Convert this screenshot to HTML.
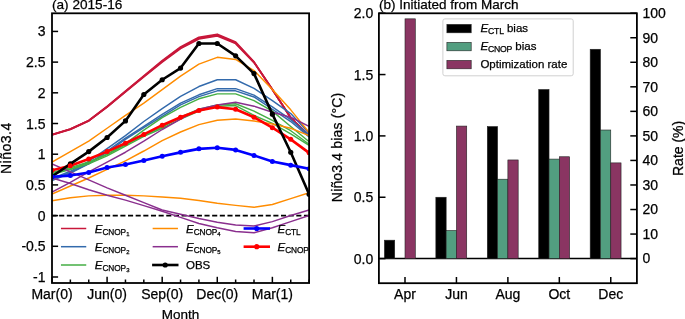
<!DOCTYPE html>
<html><head><meta charset="utf-8"><style>
html,body{margin:0;padding:0;background:#fff;width:685px;height:319px;overflow:hidden}
svg{display:block;will-change:transform}
text{font-family:"Liberation Sans", sans-serif;fill:#000;stroke:#000;stroke-width:0.25px}
</style></head><body>
<svg width="685" height="319" viewBox="0 0 685 319">
<clipPath id="ca"><rect x="52.00" y="13.30" width="257.10" height="269.70"/></clipPath>
<g clip-path="url(#ca)">
<line x1="51.50" y1="215.60" x2="309.10" y2="215.60" stroke="#000" stroke-width="1.8" stroke-dasharray="5.1 2.55"/>
<polyline points="52.00,134.92 70.36,129.33 88.73,120.91 107.09,107.09 125.46,91.92 143.82,76.94 162.19,61.95 180.55,48.44 198.91,38.92 217.28,35.85 235.64,43.52 254.01,62.56 272.37,89.59 290.74,117.84 309.10,135.65" fill="none" stroke="#c8173a" stroke-width="1.75" stroke-linejoin="round" stroke-linecap="butt"/>
<polyline points="52.00,134.62 70.36,128.98 88.73,120.46 107.09,106.49 125.46,91.12 143.82,75.94 162.19,60.75 180.55,47.04 198.91,37.32 217.28,34.25 235.64,42.12 254.01,61.86 272.37,89.59 290.74,117.84 309.10,135.65" fill="none" stroke="#c8173a" stroke-width="1.75" stroke-linejoin="round" stroke-linecap="butt"/>
<polyline points="52.00,134.77 70.36,129.15 88.73,120.69 107.09,106.79 125.46,91.52 143.82,76.44 162.19,61.35 180.55,47.74 198.91,38.12 217.28,35.05 235.64,42.82 254.01,62.21 272.37,89.59 290.74,117.84 309.10,135.65" fill="none" stroke="#c8173a" stroke-width="1.75" stroke-linejoin="round" stroke-linecap="butt"/>
<polyline points="52.00,178.65 70.36,171.28 88.73,161.45 107.09,148.55 125.46,135.65 143.82,121.53 162.19,108.63 180.55,96.35 198.91,86.52 217.28,79.76 235.64,79.76 254.01,88.36 272.37,100.64 290.74,113.54 309.10,133.20" fill="none" stroke="#336aac" stroke-width="1.45" stroke-linejoin="round" stroke-linecap="butt"/>
<polyline points="52.00,179.88 70.36,172.51 88.73,163.29 107.09,151.01 125.46,138.11 143.82,126.44 162.19,114.46 180.55,103.10 198.91,94.81 217.28,88.67 235.64,88.67 254.01,95.12 272.37,106.79 290.74,119.68 309.10,135.04" fill="none" stroke="#336aac" stroke-width="1.45" stroke-linejoin="round" stroke-linecap="butt"/>
<polyline points="52.00,180.49 70.36,173.12 88.73,163.91 107.09,152.24 125.46,139.34 143.82,127.67 162.19,116.31 180.55,104.94 198.91,96.65 217.28,90.82 235.64,90.82 254.01,96.96 272.37,109.24 290.74,121.53 309.10,136.88" fill="none" stroke="#336aac" stroke-width="1.45" stroke-linejoin="round" stroke-linecap="butt"/>
<polyline points="52.00,172.51 70.36,167.59 88.73,162.06 107.09,154.08 125.46,143.64 143.82,130.13 162.19,117.54 180.55,107.40 198.91,98.80 217.28,93.89 235.64,93.89 254.01,100.64 272.37,111.09 290.74,126.44 309.10,141.80" fill="none" stroke="#45ae45" stroke-width="1.45" stroke-linejoin="round" stroke-linecap="butt"/>
<polyline points="52.00,173.73 70.36,168.82 88.73,162.68 107.09,154.69 125.46,144.87 143.82,135.04 162.19,127.06 180.55,117.23 198.91,109.24 217.28,104.94 235.64,103.72 254.01,111.09 272.37,120.30 290.74,130.74 309.10,144.25" fill="none" stroke="#45ae45" stroke-width="1.45" stroke-linejoin="round" stroke-linecap="butt"/>
<polyline points="52.00,174.35 70.36,169.44 88.73,163.91 107.09,155.92 125.46,146.10 143.82,136.27 162.19,128.28 180.55,119.07 198.91,111.09 217.28,106.17 235.64,105.56 254.01,115.39 272.37,123.37 290.74,133.81 309.10,145.48" fill="none" stroke="#45ae45" stroke-width="1.45" stroke-linejoin="round" stroke-linecap="butt"/>
<polyline points="52.00,162.06 70.36,151.62 88.73,141.18 107.09,128.28 125.46,115.39 143.82,103.10 162.19,89.59 180.55,76.08 198.91,64.10 217.28,57.34 235.64,59.49 254.01,70.55 272.37,89.59 290.74,109.86 309.10,132.58" fill="none" stroke="#ff8c00" stroke-width="1.45" stroke-linejoin="round" stroke-linecap="butt"/>
<polyline points="52.00,194.00 70.36,186.02 88.73,178.03 107.09,169.44 125.46,160.84 143.82,151.01 162.19,140.57 180.55,131.97 198.91,124.60 217.28,120.30 235.64,119.07 254.01,120.91 272.37,123.98 290.74,128.28 309.10,135.65" fill="none" stroke="#ff8c00" stroke-width="1.45" stroke-linejoin="round" stroke-linecap="butt"/>
<polyline points="52.00,200.76 70.36,197.69 88.73,195.85 107.09,195.23 125.46,195.23 143.82,195.85 162.19,197.07 180.55,198.30 198.91,200.45 217.28,203.22 235.64,205.37 254.01,207.21 272.37,204.44 290.74,198.61 309.10,192.77" fill="none" stroke="#ff8c00" stroke-width="1.45" stroke-linejoin="round" stroke-linecap="butt"/>
<polyline points="52.00,192.16 70.36,182.33 88.73,171.89 107.09,162.06 125.46,152.24 143.82,141.18 162.19,129.51 180.55,119.07 198.91,109.24 217.28,104.94 235.64,102.18 254.01,106.17 272.37,112.31 290.74,117.23 309.10,126.44" fill="none" stroke="#8a2f8e" stroke-width="1.45" stroke-linejoin="round" stroke-linecap="butt"/>
<polyline points="52.00,163.91 70.36,171.89 88.73,179.88 107.09,187.86 125.46,195.23 143.82,202.60 162.19,209.97 180.55,214.27 198.91,218.57 217.28,222.26 235.64,225.02 254.01,225.94 272.37,221.64 290.74,215.50 309.10,209.97" fill="none" stroke="#8a2f8e" stroke-width="1.45" stroke-linejoin="round" stroke-linecap="butt"/>
<polyline points="52.00,178.03 70.36,183.56 88.73,189.70 107.09,195.23 125.46,200.15 143.82,205.67 162.19,211.20 180.55,217.34 198.91,223.48 217.28,227.78 235.64,231.47 254.01,232.70 272.37,227.78 290.74,221.64 309.10,215.50" fill="none" stroke="#8a2f8e" stroke-width="1.45" stroke-linejoin="round" stroke-linecap="butt"/>
<polyline points="52.00,170.36 70.36,165.75 88.73,158.99 107.09,151.62 125.46,143.27 143.82,134.43 162.19,125.21 180.55,117.23 198.91,110.47 217.28,107.09 235.64,109.24 254.01,117.23 272.37,127.67 290.74,139.34 309.10,152.85" fill="none" stroke="#ff0000" stroke-width="2.60" stroke-linejoin="round" stroke-linecap="butt"/>
<polyline points="52.00,176.50 70.36,163.91 88.73,151.62 107.09,137.50 125.46,120.91 143.82,94.50 162.19,79.76 180.55,68.09 198.91,43.52 217.28,43.52 235.64,55.81 254.01,73.62 272.37,114.16 290.74,152.24 309.10,194.31" fill="none" stroke="#000" stroke-width="2.60" stroke-linejoin="round" stroke-linecap="butt"/>
<circle cx="52.00" cy="176.50" r="2.60" fill="#000"/><circle cx="70.36" cy="163.91" r="2.60" fill="#000"/><circle cx="88.73" cy="151.62" r="2.60" fill="#000"/><circle cx="107.09" cy="137.50" r="2.60" fill="#000"/><circle cx="125.46" cy="120.91" r="2.60" fill="#000"/><circle cx="143.82" cy="94.50" r="2.60" fill="#000"/><circle cx="162.19" cy="79.76" r="2.60" fill="#000"/><circle cx="180.55" cy="68.09" r="2.60" fill="#000"/><circle cx="198.91" cy="43.52" r="2.60" fill="#000"/><circle cx="217.28" cy="43.52" r="2.60" fill="#000"/><circle cx="235.64" cy="55.81" r="2.60" fill="#000"/><circle cx="254.01" cy="73.62" r="2.60" fill="#000"/><circle cx="272.37" cy="114.16" r="2.60" fill="#000"/><circle cx="290.74" cy="152.24" r="2.60" fill="#000"/><circle cx="309.10" cy="194.31" r="2.60" fill="#000"/>
<polyline points="52.00,176.81 70.36,175.58 88.73,172.51 107.09,167.59 125.46,164.52 143.82,160.47 162.19,156.35 180.55,152.36 198.91,148.86 217.28,147.69 235.64,149.90 254.01,155.49 272.37,161.45 290.74,165.14 309.10,168.82" fill="none" stroke="#0000ff" stroke-width="2.60" stroke-linejoin="round" stroke-linecap="butt"/>
<circle cx="52.00" cy="176.81" r="2.50" fill="#0000ff"/><circle cx="70.36" cy="175.58" r="2.50" fill="#0000ff"/><circle cx="88.73" cy="172.51" r="2.50" fill="#0000ff"/><circle cx="107.09" cy="167.59" r="2.50" fill="#0000ff"/><circle cx="125.46" cy="164.52" r="2.50" fill="#0000ff"/><circle cx="143.82" cy="160.47" r="2.50" fill="#0000ff"/><circle cx="162.19" cy="156.35" r="2.50" fill="#0000ff"/><circle cx="180.55" cy="152.36" r="2.50" fill="#0000ff"/><circle cx="198.91" cy="148.86" r="2.50" fill="#0000ff"/><circle cx="217.28" cy="147.69" r="2.50" fill="#0000ff"/><circle cx="235.64" cy="149.90" r="2.50" fill="#0000ff"/><circle cx="254.01" cy="155.49" r="2.50" fill="#0000ff"/><circle cx="272.37" cy="161.45" r="2.50" fill="#0000ff"/><circle cx="290.74" cy="165.14" r="2.50" fill="#0000ff"/><circle cx="309.10" cy="168.82" r="2.50" fill="#0000ff"/>
<circle cx="52.00" cy="170.36" r="2.50" fill="#ff0000"/><circle cx="70.36" cy="165.75" r="2.50" fill="#ff0000"/><circle cx="88.73" cy="158.99" r="2.50" fill="#ff0000"/><circle cx="107.09" cy="151.62" r="2.50" fill="#ff0000"/><circle cx="125.46" cy="143.27" r="2.50" fill="#ff0000"/><circle cx="143.82" cy="134.43" r="2.50" fill="#ff0000"/><circle cx="162.19" cy="125.21" r="2.50" fill="#ff0000"/><circle cx="180.55" cy="117.23" r="2.50" fill="#ff0000"/><circle cx="198.91" cy="110.47" r="2.50" fill="#ff0000"/><circle cx="217.28" cy="107.09" r="2.50" fill="#ff0000"/><circle cx="235.64" cy="109.24" r="2.50" fill="#ff0000"/><circle cx="254.01" cy="117.23" r="2.50" fill="#ff0000"/><circle cx="272.37" cy="127.67" r="2.50" fill="#ff0000"/><circle cx="290.74" cy="139.34" r="2.50" fill="#ff0000"/><circle cx="309.10" cy="152.85" r="2.50" fill="#ff0000"/>
</g>
<line x1="61.70" y1="228.50" x2="85.50" y2="228.50" stroke="#c8173a" stroke-width="1.50" stroke-linecap="square"/>
<text x="94.80" y="232.50" font-size="11.5"><tspan font-style="italic">E</tspan><tspan font-size="8.3" dy="2.0" letter-spacing="-0.12">CNOP</tspan><tspan font-size="5.9" dy="1.3" dx="0.2">1</tspan></text>
<line x1="61.70" y1="246.70" x2="85.50" y2="246.70" stroke="#336aac" stroke-width="1.50" stroke-linecap="square"/>
<text x="94.80" y="250.70" font-size="11.5"><tspan font-style="italic">E</tspan><tspan font-size="8.3" dy="2.0" letter-spacing="-0.12">CNOP</tspan><tspan font-size="5.9" dy="1.3" dx="0.2">2</tspan></text>
<line x1="61.70" y1="265.00" x2="85.50" y2="265.00" stroke="#45ae45" stroke-width="1.50" stroke-linecap="square"/>
<text x="94.80" y="269.00" font-size="11.5"><tspan font-style="italic">E</tspan><tspan font-size="8.3" dy="2.0" letter-spacing="-0.12">CNOP</tspan><tspan font-size="5.9" dy="1.3" dx="0.2">3</tspan></text>
<line x1="153.40" y1="228.50" x2="177.20" y2="228.50" stroke="#ff8c00" stroke-width="1.50" stroke-linecap="square"/>
<text x="186.00" y="232.50" font-size="11.5"><tspan font-style="italic">E</tspan><tspan font-size="8.3" dy="2.0" letter-spacing="-0.12">CNOP</tspan><tspan font-size="5.9" dy="1.3" dx="0.2">4</tspan></text>
<line x1="153.40" y1="246.70" x2="177.20" y2="246.70" stroke="#8a2f8e" stroke-width="1.50" stroke-linecap="square"/>
<text x="186.00" y="250.70" font-size="11.5"><tspan font-style="italic">E</tspan><tspan font-size="8.3" dy="2.0" letter-spacing="-0.12">CNOP</tspan><tspan font-size="5.9" dy="1.3" dx="0.2">5</tspan></text>
<line x1="244.90" y1="228.50" x2="268.70" y2="228.50" stroke="#0000ff" stroke-width="2.60" stroke-linecap="square"/>
<circle cx="256.70" cy="228.50" r="2.6" fill="#0000ff"/>
<text x="277.50" y="232.50" font-size="11.5"><tspan font-style="italic">E</tspan><tspan font-size="8.3" dy="2.0" letter-spacing="-0.12">CTL</tspan></text>
<line x1="244.90" y1="246.70" x2="268.70" y2="246.70" stroke="#ff0000" stroke-width="2.60" stroke-linecap="square"/>
<circle cx="256.70" cy="246.70" r="2.6" fill="#ff0000"/>
<text x="277.50" y="250.70" font-size="11.5"><tspan font-style="italic">E</tspan><tspan font-size="8.3" dy="2.0" letter-spacing="-0.12">CNOP</tspan></text>
<line x1="153.40" y1="265.00" x2="177.20" y2="265.00" stroke="#000" stroke-width="2.6" stroke-linecap="square"/>
<circle cx="165.20" cy="265.00" r="2.6" fill="#000"/>
<text x="186.00" y="269.00" font-size="11.5" text-anchor="start">OBS</text>
<rect x="52.00" y="13.30" width="257.10" height="269.70" fill="none" stroke="#000" stroke-width="1.8"/>
<line x1="52.00" y1="31.43" x2="58.10" y2="31.43" stroke="#000" stroke-width="1.5"/>
<text x="45.50" y="36.43" font-size="14" text-anchor="end">3</text>
<line x1="52.00" y1="62.12" x2="58.10" y2="62.12" stroke="#000" stroke-width="1.5"/>
<text x="45.50" y="67.12" font-size="14" text-anchor="end">2.5</text>
<line x1="52.00" y1="92.82" x2="58.10" y2="92.82" stroke="#000" stroke-width="1.5"/>
<text x="45.50" y="97.82" font-size="14" text-anchor="end">2</text>
<line x1="52.00" y1="123.51" x2="58.10" y2="123.51" stroke="#000" stroke-width="1.5"/>
<text x="45.50" y="128.51" font-size="14" text-anchor="end">1.5</text>
<line x1="52.00" y1="154.21" x2="58.10" y2="154.21" stroke="#000" stroke-width="1.5"/>
<text x="45.50" y="159.21" font-size="14" text-anchor="end">1</text>
<line x1="52.00" y1="184.91" x2="58.10" y2="184.91" stroke="#000" stroke-width="1.5"/>
<text x="45.50" y="189.91" font-size="14" text-anchor="end">0.5</text>
<line x1="52.00" y1="215.60" x2="58.10" y2="215.60" stroke="#000" stroke-width="1.5"/>
<text x="45.50" y="220.60" font-size="14" text-anchor="end">0</text>
<line x1="52.00" y1="246.29" x2="58.10" y2="246.29" stroke="#000" stroke-width="1.5"/>
<text x="45.50" y="251.29" font-size="14" text-anchor="end">-0.5</text>
<line x1="52.00" y1="276.99" x2="58.10" y2="276.99" stroke="#000" stroke-width="1.5"/>
<text x="45.50" y="281.99" font-size="14" text-anchor="end">-1</text>
<line x1="52.00" y1="283.00" x2="52.00" y2="276.80" stroke="#000" stroke-width="1.5"/>
<line x1="70.36" y1="283.00" x2="70.36" y2="279.50" stroke="#000" stroke-width="1.5"/>
<line x1="88.73" y1="283.00" x2="88.73" y2="279.50" stroke="#000" stroke-width="1.5"/>
<line x1="107.09" y1="283.00" x2="107.09" y2="276.80" stroke="#000" stroke-width="1.5"/>
<line x1="125.46" y1="283.00" x2="125.46" y2="279.50" stroke="#000" stroke-width="1.5"/>
<line x1="143.82" y1="283.00" x2="143.82" y2="279.50" stroke="#000" stroke-width="1.5"/>
<line x1="162.19" y1="283.00" x2="162.19" y2="276.80" stroke="#000" stroke-width="1.5"/>
<line x1="180.55" y1="283.00" x2="180.55" y2="279.50" stroke="#000" stroke-width="1.5"/>
<line x1="198.91" y1="283.00" x2="198.91" y2="279.50" stroke="#000" stroke-width="1.5"/>
<line x1="217.28" y1="283.00" x2="217.28" y2="276.80" stroke="#000" stroke-width="1.5"/>
<line x1="235.64" y1="283.00" x2="235.64" y2="279.50" stroke="#000" stroke-width="1.5"/>
<line x1="254.01" y1="283.00" x2="254.01" y2="279.50" stroke="#000" stroke-width="1.5"/>
<line x1="272.37" y1="283.00" x2="272.37" y2="276.80" stroke="#000" stroke-width="1.5"/>
<line x1="290.74" y1="283.00" x2="290.74" y2="279.50" stroke="#000" stroke-width="1.5"/>
<line x1="309.10" y1="283.00" x2="309.10" y2="279.50" stroke="#000" stroke-width="1.5"/>
<text x="52.00" y="299.40" font-size="14" text-anchor="middle">Mar(0)</text>
<text x="107.09" y="299.40" font-size="14" text-anchor="middle">Jun(0)</text>
<text x="162.19" y="299.40" font-size="14" text-anchor="middle">Sep(0)</text>
<text x="217.28" y="299.40" font-size="14" text-anchor="middle">Dec(0)</text>
<text x="272.37" y="299.40" font-size="14" text-anchor="middle">Mar(1)</text>
<text x="180.55" y="318.60" font-size="13.5" text-anchor="middle">Month</text>
<text x="52.00" y="9.40" font-size="13.6" text-anchor="start">(a) 2015-16</text>
<text x="0" y="0" font-size="14" text-anchor="middle" letter-spacing="0.5" transform="translate(11.2,148.2) rotate(-90)">Niño3.4</text>
<line x1="378.90" y1="258.60" x2="636.90" y2="258.60" stroke="#000" stroke-width="1.5"/>
<rect x="384.42" y="240.20" width="10.29" height="18.41" fill="#000" stroke="#222" stroke-width="0.6"/>
<rect x="405.00" y="18.84" width="10.29" height="239.76" fill="#8a3562" stroke="#222" stroke-width="0.6"/>
<rect x="435.86" y="197.25" width="10.29" height="61.35" fill="#000" stroke="#222" stroke-width="0.6"/>
<rect x="446.15" y="230.50" width="10.29" height="28.10" fill="#529e80" stroke="#222" stroke-width="0.6"/>
<rect x="456.44" y="126.08" width="10.29" height="132.52" fill="#8a3562" stroke="#222" stroke-width="0.6"/>
<rect x="487.30" y="126.57" width="10.29" height="132.03" fill="#000" stroke="#222" stroke-width="0.6"/>
<rect x="497.59" y="179.21" width="10.29" height="79.39" fill="#529e80" stroke="#222" stroke-width="0.6"/>
<rect x="507.88" y="159.95" width="10.29" height="98.65" fill="#8a3562" stroke="#222" stroke-width="0.6"/>
<rect x="538.74" y="89.52" width="10.29" height="169.08" fill="#000" stroke="#222" stroke-width="0.6"/>
<rect x="549.03" y="159.09" width="10.29" height="99.51" fill="#529e80" stroke="#222" stroke-width="0.6"/>
<rect x="559.32" y="156.76" width="10.29" height="101.84" fill="#8a3562" stroke="#222" stroke-width="0.6"/>
<rect x="590.18" y="49.27" width="10.29" height="209.33" fill="#000" stroke="#222" stroke-width="0.6"/>
<rect x="600.47" y="130.01" width="10.29" height="128.59" fill="#529e80" stroke="#222" stroke-width="0.6"/>
<rect x="610.76" y="162.89" width="10.29" height="95.71" fill="#8a3562" stroke="#222" stroke-width="0.6"/>
<rect x="442.9" y="18.9" width="130.3" height="56.9" rx="2" ry="2" fill="#fff" fill-opacity="0.8" stroke="#d0d0d0" stroke-width="1"/>
<rect x="446.9" y="24.40" width="24.3" height="8.4" fill="#000" stroke="#222" stroke-width="0.6"/>
<text x="480.4" y="32.40" font-size="11.5"><tspan font-style="italic">E</tspan><tspan font-size="8.7" dy="2.0" letter-spacing="-0.25">CTL</tspan><tspan dy="-2.0" letter-spacing="0"> bias</tspan></text>
<rect x="446.9" y="42.40" width="24.3" height="8.4" fill="#529e80" stroke="#222" stroke-width="0.6"/>
<text x="480.4" y="50.40" font-size="11.5"><tspan font-style="italic">E</tspan><tspan font-size="8.7" dy="2.0" letter-spacing="-0.25">CNOP</tspan><tspan dy="-2.0" letter-spacing="0"> bias</tspan></text>
<rect x="446.9" y="60.40" width="24.3" height="8.4" fill="#8a3562" stroke="#222" stroke-width="0.6"/>
<text x="480.40" y="68.40" font-size="11.5" text-anchor="start">Optimization rate</text>
<rect x="378.90" y="13.30" width="258.00" height="269.90" fill="none" stroke="#000" stroke-width="1.8"/>
<line x1="378.90" y1="13.20" x2="385.50" y2="13.20" stroke="#000" stroke-width="1.5"/>
<text x="373.30" y="18.20" font-size="14" text-anchor="end">2.0</text>
<line x1="378.90" y1="74.55" x2="385.50" y2="74.55" stroke="#000" stroke-width="1.5"/>
<text x="373.30" y="79.55" font-size="14" text-anchor="end">1.5</text>
<line x1="378.90" y1="135.90" x2="385.50" y2="135.90" stroke="#000" stroke-width="1.5"/>
<text x="373.30" y="140.90" font-size="14" text-anchor="end">1.0</text>
<line x1="378.90" y1="197.25" x2="385.50" y2="197.25" stroke="#000" stroke-width="1.5"/>
<text x="373.30" y="202.25" font-size="14" text-anchor="end">0.5</text>
<line x1="378.90" y1="258.60" x2="385.50" y2="258.60" stroke="#000" stroke-width="1.5"/>
<text x="373.30" y="263.60" font-size="14" text-anchor="end">0.0</text>
<line x1="630.30" y1="258.60" x2="636.90" y2="258.60" stroke="#000" stroke-width="1.5"/>
<text x="642.50" y="263.40" font-size="14" text-anchor="start">0</text>
<line x1="630.30" y1="234.06" x2="636.90" y2="234.06" stroke="#000" stroke-width="1.5"/>
<text x="642.50" y="238.86" font-size="14" text-anchor="start">10</text>
<line x1="630.30" y1="209.52" x2="636.90" y2="209.52" stroke="#000" stroke-width="1.5"/>
<text x="642.50" y="214.32" font-size="14" text-anchor="start">20</text>
<line x1="630.30" y1="184.98" x2="636.90" y2="184.98" stroke="#000" stroke-width="1.5"/>
<text x="642.50" y="189.78" font-size="14" text-anchor="start">30</text>
<line x1="630.30" y1="160.44" x2="636.90" y2="160.44" stroke="#000" stroke-width="1.5"/>
<text x="642.50" y="165.24" font-size="14" text-anchor="start">40</text>
<line x1="630.30" y1="135.90" x2="636.90" y2="135.90" stroke="#000" stroke-width="1.5"/>
<text x="642.50" y="140.70" font-size="14" text-anchor="start">50</text>
<line x1="630.30" y1="111.36" x2="636.90" y2="111.36" stroke="#000" stroke-width="1.5"/>
<text x="642.50" y="116.16" font-size="14" text-anchor="start">60</text>
<line x1="630.30" y1="86.82" x2="636.90" y2="86.82" stroke="#000" stroke-width="1.5"/>
<text x="642.50" y="91.62" font-size="14" text-anchor="start">70</text>
<line x1="630.30" y1="62.28" x2="636.90" y2="62.28" stroke="#000" stroke-width="1.5"/>
<text x="642.50" y="67.08" font-size="14" text-anchor="start">80</text>
<line x1="630.30" y1="37.74" x2="636.90" y2="37.74" stroke="#000" stroke-width="1.5"/>
<text x="642.50" y="42.54" font-size="14" text-anchor="start">90</text>
<line x1="630.30" y1="13.20" x2="636.90" y2="13.20" stroke="#000" stroke-width="1.5"/>
<text x="642.50" y="18.00" font-size="14" text-anchor="start">100</text>
<line x1="405.00" y1="283.20" x2="405.00" y2="277.00" stroke="#000" stroke-width="1.5"/>
<text x="405.00" y="299.40" font-size="14" text-anchor="middle">Apr</text>
<line x1="456.44" y1="283.20" x2="456.44" y2="277.00" stroke="#000" stroke-width="1.5"/>
<text x="456.44" y="299.40" font-size="14" text-anchor="middle">Jun</text>
<line x1="507.88" y1="283.20" x2="507.88" y2="277.00" stroke="#000" stroke-width="1.5"/>
<text x="507.88" y="299.40" font-size="14" text-anchor="middle">Aug</text>
<line x1="559.32" y1="283.20" x2="559.32" y2="277.00" stroke="#000" stroke-width="1.5"/>
<text x="559.32" y="299.40" font-size="14" text-anchor="middle">Oct</text>
<line x1="610.76" y1="283.20" x2="610.76" y2="277.00" stroke="#000" stroke-width="1.5"/>
<text x="610.76" y="299.40" font-size="14" text-anchor="middle">Dec</text>
<text x="378.90" y="9.40" font-size="13.5" text-anchor="start">(b) Initiated from March</text>
<text x="0" y="0" font-size="14" text-anchor="middle" letter-spacing="0.16" transform="translate(342.0,147.4) rotate(-90)">Niño3.4 bias (°C)</text>
<text x="0" y="0" font-size="14" text-anchor="middle" transform="translate(682.8,148.4) rotate(-90)">Rate (%)</text>
</svg>
</body></html>
